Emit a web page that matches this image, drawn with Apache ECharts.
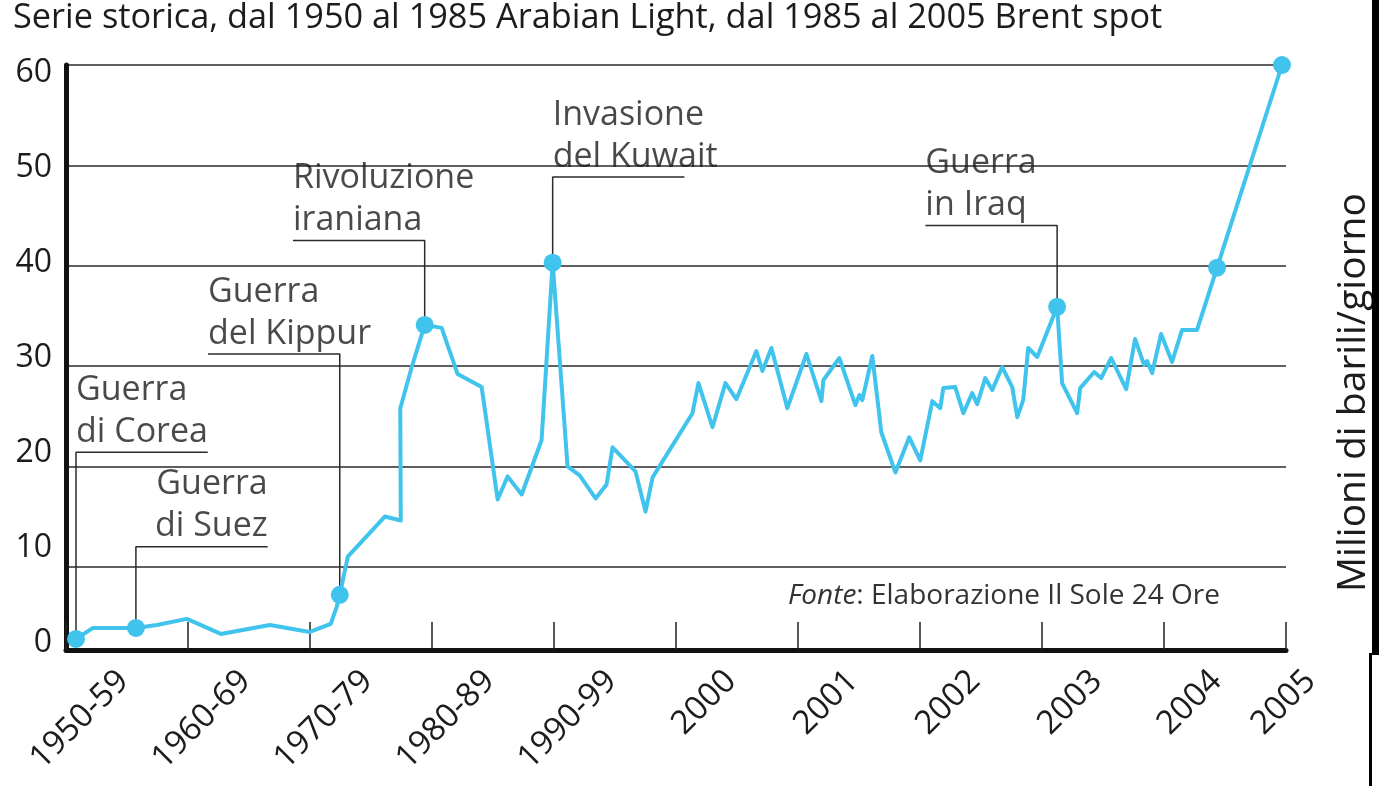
<!DOCTYPE html>
<html>
<head>
<meta charset="utf-8">
<script src="https://cdn.jsdelivr.net/npm/echarts@6/dist/echarts.min.js"></script>
<style>
html,body{margin:0;padding:0;background:#ffffff;overflow:hidden;}
#chart{width:1379px;height:786px;}
</style>
</head>
<body>
<div id="chart"></div>
<script>
// ---------- texts ----------
const titleText = 'Serie storica, dal 1950 al 1985 Arabian Light, dal 1985 al 2005 Brent spot';
const yAxisName = 'Milioni di barili/giorno';
const sourceLabel = 'Fonte';
const sourceText = ': Elaborazione Il Sole 24 Ore';

// ---------- x axis (band units: 0=1950 … 5=2000 … 10=2005) ----------
const xTickLabels = ['1950-59', '1960-69', '1970-79', '1980-89', '1990-99', '2000', '2001', '2002', '2003', '2004', '2005'];
const xTickLabelPos = [0.47, 1.47, 2.47, 3.47, 4.47, 5.45, 6.45, 7.45, 8.45, 9.43, 10.2];

// ---------- y axis ----------
const yTickLabels = [0, 10, 20, 30, 40, 50, 60];

// ---------- series ----------
const xPos = [
  0.082, 0.221, 0.573, 0.745, 0.991, 1.269, 1.671, 1.998, 2.170, 2.219,
  2.244, 2.310, 2.613, 2.744, 2.740, 2.834, 2.940, 3.079, 3.210, 3.407,
  3.538, 3.620, 3.735, 3.898, 3.989, 4.111, 4.210, 4.341, 4.431, 4.480,
  4.668, 4.750, 4.808, 5.135, 5.184, 5.299, 5.405, 5.495, 5.659, 5.708,
  5.782, 5.913, 6.069, 6.192, 6.208, 6.339, 6.470, 6.503, 6.527, 6.609,
  6.683, 6.798, 6.912, 7.002, 7.101, 7.166, 7.191, 7.289, 7.355, 7.428,
  7.469, 7.535, 7.592, 7.674, 7.756, 7.797, 7.846, 7.887, 7.961, 8.124,
  8.165, 8.288, 8.313, 8.428, 8.485, 8.567, 8.690, 8.763, 8.837, 8.862,
  8.903, 8.976, 9.066, 9.148, 9.271, 9.435, 9.967
];
const values = [
  2.8, 3.9, 3.9, 4.2, 4.8, 3.3, 4.2, 3.5, 4.3, 6.0,
  7.2, 11.0, 15.0, 14.6, 25.8, 29.9, 34.1, 33.8, 29.2, 27.9,
  16.7, 19.0, 17.2, 22.6, 40.3, 20.0, 19.1, 16.8, 18.2, 21.9,
  19.5, 15.5, 18.9, 25.3, 28.3, 23.9, 28.3, 26.7, 31.5, 29.5,
  31.8, 25.8, 31.2, 26.5, 28.6, 30.8, 26.1, 27.1, 26.6, 31.0,
  23.4, 19.4, 22.9, 20.6, 26.5, 25.8, 27.8, 27.9, 25.3, 27.3,
  26.2, 28.8, 27.6, 29.9, 27.9, 24.9, 26.6, 31.8, 30.9, 35.9,
  28.3, 25.3, 27.8, 29.4, 28.8, 30.8, 27.7, 32.7, 30.1, 30.5,
  29.3, 33.2, 30.4, 33.6, 33.6, 39.8, 60.0
];
const markedIdx = [0, 2, 10, 16, 24, 69, 85, 86];

// ---------- annotations ----------
const eventNames = ['Guerra\ndi Corea', 'Guerra\ndi Suez', 'Guerra\ndel Kippur', 'Rivoluzione\niraniana', 'Invasione\ndel Kuwait', 'Guerra\nin Iraq'];
const eventIdx = [0, 2, 10, 16, 24, 69];
const eventLevel = [21.4, 12.0, 31.2, 42.5, 48.85, 44.0];   // height of the underline
const eventLeaderSide = ['left', 'left', 'right', 'right', 'left', 'right'];
const eventTextAlign = ['left', 'right', 'left', 'left', 'left', 'left'];
const underlineWidth = 1.08;

// ---------- styles ----------
const FONT = 'Open Sans';
const TEXT = '#1c1c1c';
const LINE_COLOR = '#40c3ec';

const chart = echarts.init(document.getElementById('chart'), null, {renderer: 'canvas'});

const leaderSeries = eventNames.map((n, k) => {
  const i = eventIdx[k];
  const x = xPos[i], y = values[i], lv = eventLevel[k];
  const pts = eventLeaderSide[k] === 'left'
    ? [[x, y], [x, lv], [x + underlineWidth, lv]]
    : [[x - underlineWidth, lv], [x, lv], [x, y]];
  return {
    type: 'line', xAxisIndex: 0, yAxisIndex: 0, data: pts,
    symbol: 'none', silent: true, z: 2, animation: false,
    lineStyle: {color: '#2b2b2b', width: 1.5}
  };
});

const labelData = eventNames.map((n, k) => {
  const i = eventIdx[k];
  const x = xPos[i], lv = eventLevel[k];
  const left = eventLeaderSide[k] === 'left' ? x : x - underlineWidth;
  const right = left + underlineWidth;
  const ax = eventTextAlign[k] === 'left' ? left : right;
  return {value: [ax, lv], name: n, label: {align: eventTextAlign[k]}};
});

const option = {
  animation: false,
  backgroundColor: '#ffffff',
  title: [
    {
      text: titleText, left: 13, top: 1, padding: 0,
      textStyle: {fontFamily: FONT, fontSize: 34.3, fontWeight: 'normal', color: TEXT}
    },
    {
      text: '{i|' + sourceLabel + '}{n|' + sourceText + '}', right: 159, top: 582, padding: 0,
      textStyle: {
        fontWeight: 'normal',
        rich: {
          i: {fontFamily: FONT, fontSize: 28, fontStyle: 'italic', fontWeight: 'normal', color: '#333'},
          n: {fontFamily: FONT, fontSize: 28, fontWeight: 'normal', color: '#333'}
        }
      }
    }
  ],
  grid: [
    {left: 66, right: 93, top: 65, bottom: 136, outerBoundsMode: 'none'},
    {left: 66, right: 68.6, top: 65, bottom: 136, outerBoundsMode: 'none'}
  ],
  xAxis: [
    {
      gridIndex: 0, type: 'value', min: 0, max: 10, minInterval: 1, maxInterval: 1,
      axisLine: {show: true, onZero: false, lineStyle: {color: '#111', width: 5}},
      axisTick: {show: true, inside: true, length: 28, lineStyle: {color: '#222', width: 1.5}},
      axisLabel: {show: false},
      splitLine: {show: false}
    },
    {
      gridIndex: 1, type: 'value', min: 0, max: 10.2,
      axisLine: {show: false}, axisTick: {show: false}, splitLine: {show: false},
      axisLabel: {
        show: true, customValues: xTickLabelPos, rotate: 45, margin: 26,
        showMinLabel: true, showMaxLabel: true,
        fontFamily: FONT, fontSize: 33, color: TEXT,
        formatter: function (v) {
          const j = xTickLabelPos.findIndex(p => Math.abs(p - v) < 1e-6);
          return j >= 0 ? xTickLabels[j] : '';
        }
      }
    }
  ],
  yAxis: [
    {
      gridIndex: 0, type: 'value', min: 1.7, max: 60, minInterval: 10, maxInterval: 10,
      axisLine: {show: true, onZero: false, lineStyle: {color: '#111', width: 5}},
      axisTick: {show: false}, axisLabel: {show: false},
      splitLine: {show: true, lineStyle: {color: '#2a2a2a', width: 1.5}}
    },
    {
      gridIndex: 0, type: 'value', position: 'right', min: 1.7, max: 60,
      axisLine: {show: false}, axisTick: {show: false}, axisLabel: {show: false}, splitLine: {show: false},
      name: yAxisName, nameLocation: 'middle', nameRotate: 90, nameGap: 48,
      nameTextStyle: {fontFamily: FONT, fontSize: 39, color: TEXT, padding: [0, 70, 0, 0]}
    },
    {
      gridIndex: 0, type: 'value', position: 'left', min: -0.74, max: 60.84, minInterval: 10, maxInterval: 10,
      axisLine: {show: false}, axisTick: {show: false}, splitLine: {show: false},
      axisLabel: {
        show: true, customValues: yTickLabels, margin: 14,
        showMinLabel: true, showMaxLabel: true,
        fontFamily: FONT, fontSize: 32, color: TEXT,
        formatter: function (v) {
          const r = Math.round(v);
          return (Math.abs(v - r) < 1e-6 && yTickLabels.indexOf(r) >= 0) ? String(r) : '';
        }
      }
    },
    {gridIndex: 1, type: 'value', show: false, min: 0, max: 1}
  ],
  graphic: {
    elements: [
      {
        type: 'polygon', id: 'edge', silent: true, z: 100,
        shape: {points: [[1372, 0], [1379, 0], [1379, 655], [1372, 655], [1372, 786], [1369, 786], [1369, 653], [1372, 653]]},
        style: {fill: '#000000'}
      }
    ]
  },
  series: [
    ...leaderSeries,
    {
      type: 'line', xAxisIndex: 0, yAxisIndex: 0, z: 3,
      data: xPos.map((x, i) => [x, values[i]]),
      symbol: 'none', silent: true,
      lineStyle: {color: LINE_COLOR, width: 4, join: 'round'}
    },
    {
      type: 'scatter', xAxisIndex: 0, yAxisIndex: 0, z: 4, silent: true,
      data: markedIdx.map(i => [xPos[i], values[i]]),
      symbol: 'circle', symbolSize: 18,
      itemStyle: {color: LINE_COLOR, opacity: 1}
    },
    {
      type: 'scatter', xAxisIndex: 0, yAxisIndex: 0, z: 5, silent: true,
      data: labelData, symbolSize: 0,
      label: {
        show: true, position: 'top', distance: -1, verticalAlign: 'bottom',
        formatter: p => p.name,
        fontFamily: FONT, fontSize: 34, lineHeight: 42, color: TEXT
      }
    }
  ]
};

chart.setOption(option);
</script>
</body>
</html>
